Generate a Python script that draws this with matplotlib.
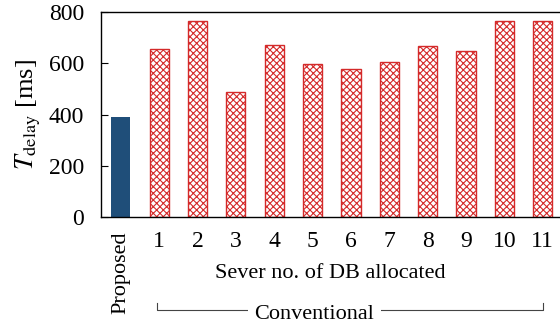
import matplotlib
matplotlib.use("Agg")
import matplotlib.pyplot as plt
import numpy as np

plt.rcParams.update({
    "font.family": "serif",
    "font.serif": ["Liberation Serif", "DejaVu Serif"],
    "mathtext.fontset": "stix",
    "font.size": 16,
    "hatch.linewidth": 0.8,
})

# ---- data ----
proposed = 390
servers = ["1", "2", "3", "4", "5", "6", "7", "8", "9", "10", "11"]
conventional = [656, 765, 488, 672, 597, 578, 605, 668, 648, 765, 765]

C_PROP = "#1f4e79"
C_CONV = "#d42a2a"

fig = plt.figure(figsize=(5.6, 3.28), dpi=100)
ax = fig.add_axes([0.18, 0.338, 0.82, 0.625])

ax.bar([0], [proposed], 0.5, color=C_PROP)
xs = np.arange(1, len(servers) + 1)
ax.bar(xs, conventional, 0.5, color="white", edgecolor=C_CONV, hatch="xxxxx", lw=1.0)

ax.set_xlim(-0.52, 11.45)
ax.set_ylim(0, 800)
ax.set_yticks([0, 200, 400, 600, 800])
ax.tick_params(axis="y", direction="in", length=5, width=0.8, pad=12, labelsize=17)
ax.tick_params(axis="x", length=0, pad=10, labelsize=17)
ax.set_xticks(np.arange(0, len(servers) + 1))
ax.set_xticklabels(["Proposed"] + servers)
lab0 = ax.get_xticklabels()[0]
lab0.set_rotation(90)
lab0.set_va("top")
lab0.set_fontsize(16)
ax.spines["right"].set_visible(False)
for s in ("left", "bottom", "top"):
    ax.spines[s].set_linewidth(1.0)

ax.set_ylabel(r"$T_{\mathrm{delay}}$ [ms]", fontsize=19, labelpad=4)
ax.text(0.5, -0.273, "Sever no. of DB allocated", transform=ax.transAxes,
        ha="center", va="center")

# bracket for conventional
tr = ax.get_xaxis_transform()
yb, yt = -0.455, -0.42
ax.plot([0.95, 0.95, 11.0, 11.0], [yt, yb, yb, yt], color="#444444", lw=0.8,
        transform=tr, clip_on=False)
ax.text(5.05, yb - 0.02, "Conventional", transform=tr, ha="center", va="center",
        bbox=dict(facecolor="white", edgecolor="none", pad=5))

fig.savefig("out.png", dpi=100, facecolor="white")
